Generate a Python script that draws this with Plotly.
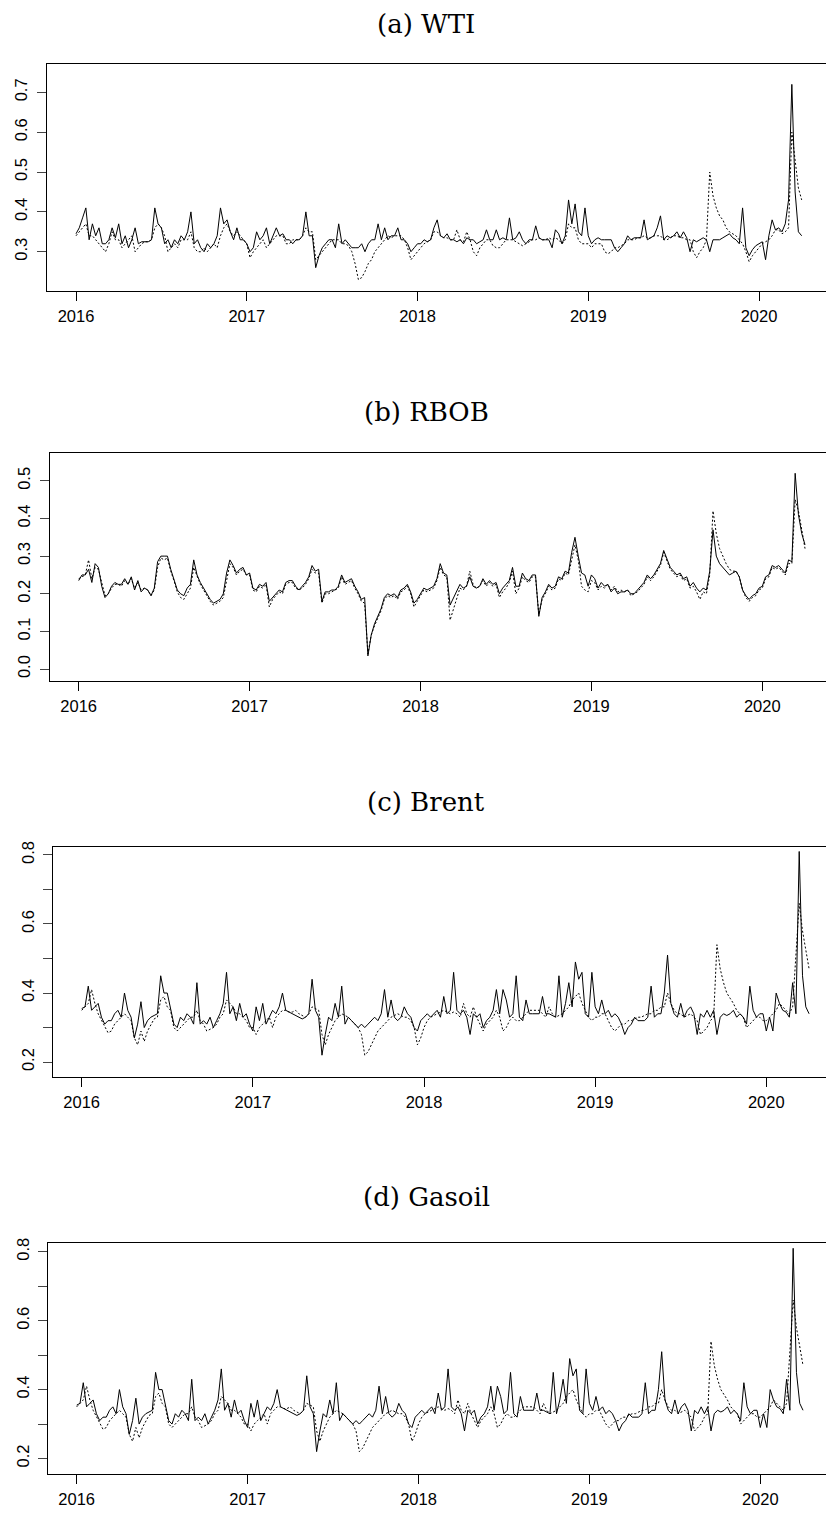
import numpy as np
import plotly.graph_objects as go

W, H = 826, 1515

# ---------------- data (weekly readings, 2016.0 -> 2020.25) ----------------
wti_solid = [
    0.345, 0.36, 0.385, 0.41, 0.33, 0.37, 0.34, 0.36, 0.32, 0.32, 0.33, 0.36, 0.335,
    0.37, 0.32, 0.34, 0.31, 0.33, 0.36, 0.32, 0.325, 0.325, 0.325, 0.33, 0.41, 0.37,
    0.36, 0.32, 0.33, 0.31, 0.33, 0.32, 0.34, 0.33, 0.35, 0.40, 0.32, 0.33, 0.31,
    0.30, 0.32, 0.31, 0.32, 0.34, 0.41, 0.37, 0.38, 0.35, 0.33, 0.36, 0.33, 0.33,
    0.32, 0.30, 0.31, 0.35, 0.33, 0.34, 0.36, 0.32, 0.34, 0.36, 0.34, 0.345, 0.33,
    0.33, 0.32, 0.33, 0.33, 0.34, 0.40, 0.34, 0.34, 0.26, 0.29, 0.31, 0.32, 0.33,
    0.33, 0.31, 0.37, 0.32, 0.33, 0.32, 0.31, 0.31, 0.31, 0.32, 0.30, 0.32, 0.33,
    0.33, 0.37, 0.33, 0.36, 0.33, 0.34, 0.34, 0.36, 0.33, 0.33, 0.32, 0.30, 0.31,
    0.32, 0.32, 0.33, 0.325, 0.33, 0.36, 0.38, 0.34, 0.335, 0.345, 0.33, 0.33, 0.325,
    0.33, 0.32, 0.335, 0.33, 0.33, 0.32, 0.325, 0.33, 0.355, 0.33, 0.33, 0.355, 0.33,
    0.335, 0.33, 0.385, 0.33, 0.335, 0.35, 0.33, 0.32, 0.33, 0.33, 0.365, 0.335, 0.33,
    0.33, 0.33, 0.31, 0.355, 0.345, 0.32, 0.34, 0.43, 0.37, 0.42, 0.35, 0.34, 0.41,
    0.34, 0.32, 0.33, 0.335, 0.33, 0.33, 0.33, 0.33, 0.31, 0.30, 0.31, 0.32, 0.34,
    0.33, 0.335, 0.335, 0.335, 0.38, 0.33, 0.335, 0.34, 0.36, 0.39, 0.33, 0.34, 0.335,
    0.34, 0.35, 0.335, 0.35, 0.335, 0.30, 0.33, 0.325, 0.33, 0.335, 0.33, 0.30, 0.33,
    0.33, 0.33, 0.335, 0.34, 0.345, 0.335, 0.33, 0.32, 0.41, 0.31, 0.29, 0.305, 0.315,
    0.32, 0.325, 0.28, 0.34, 0.38, 0.355, 0.36, 0.35, 0.37, 0.43, 0.72, 0.45, 0.35, 0.34,
]
wti_dotted = [
    0.34, 0.35, 0.36, 0.37, 0.34, 0.34, 0.33, 0.32, 0.31, 0.30, 0.32, 0.35, 0.33,
    0.33, 0.31, 0.32, 0.33, 0.34, 0.30, 0.31, 0.32, 0.325, 0.325, 0.33, 0.36, 0.37,
    0.36, 0.34, 0.30, 0.31, 0.32, 0.31, 0.33, 0.33, 0.33, 0.35, 0.31, 0.30, 0.30,
    0.31, 0.30, 0.31, 0.32, 0.31, 0.34, 0.36, 0.37, 0.35, 0.34, 0.35, 0.34, 0.33,
    0.32, 0.285, 0.30, 0.31, 0.32, 0.33, 0.31, 0.32, 0.33, 0.34, 0.34, 0.34, 0.32,
    0.32, 0.33, 0.33, 0.33, 0.34, 0.36, 0.35, 0.35, 0.28, 0.29, 0.30, 0.31, 0.32,
    0.33, 0.33, 0.33, 0.32, 0.32, 0.315, 0.30, 0.27, 0.23, 0.235, 0.25, 0.27, 0.28,
    0.30, 0.31, 0.32, 0.33, 0.34, 0.335, 0.34, 0.34, 0.34, 0.33, 0.31, 0.28, 0.29,
    0.30, 0.31, 0.32, 0.325, 0.33, 0.35, 0.35, 0.34, 0.335, 0.335, 0.33, 0.33, 0.355,
    0.33, 0.325, 0.35, 0.33, 0.30, 0.29, 0.31, 0.32, 0.33, 0.33, 0.315, 0.31, 0.31,
    0.32, 0.33, 0.33, 0.33, 0.325, 0.32, 0.315, 0.32, 0.325, 0.33, 0.33, 0.335, 0.33,
    0.33, 0.335, 0.33, 0.335, 0.33, 0.32, 0.33, 0.37, 0.36, 0.36, 0.33, 0.32, 0.32,
    0.32, 0.31, 0.32, 0.32, 0.32, 0.30, 0.295, 0.30, 0.31, 0.31, 0.315, 0.32, 0.33,
    0.33, 0.33, 0.335, 0.335, 0.34, 0.335, 0.335, 0.34, 0.34, 0.34, 0.33, 0.33, 0.335,
    0.34, 0.34, 0.335, 0.335, 0.33, 0.33, 0.30, 0.285, 0.30, 0.31, 0.33, 0.50, 0.44,
    0.41, 0.39, 0.38, 0.36, 0.35, 0.345, 0.34, 0.33, 0.32, 0.30, 0.275, 0.29, 0.30,
    0.31, 0.32, 0.325, 0.33, 0.34, 0.355, 0.355, 0.345, 0.35, 0.36, 0.60, 0.53, 0.46, 0.43,
]
rbob_solid = [
    0.235, 0.25, 0.25, 0.265, 0.23, 0.28, 0.27, 0.22, 0.19, 0.20, 0.22, 0.23, 0.225,
    0.225, 0.24, 0.225, 0.245, 0.21, 0.235, 0.205, 0.215, 0.21, 0.195, 0.215, 0.285, 0.30,
    0.30, 0.30, 0.265, 0.24, 0.21, 0.20, 0.195, 0.215, 0.225, 0.29, 0.25, 0.23, 0.215,
    0.20, 0.185, 0.175, 0.18, 0.185, 0.20, 0.255, 0.29, 0.275, 0.255, 0.265, 0.27, 0.25,
    0.255, 0.215, 0.21, 0.225, 0.22, 0.23, 0.18, 0.19, 0.20, 0.21, 0.205, 0.23, 0.235,
    0.235, 0.22, 0.21, 0.22, 0.23, 0.245, 0.275, 0.26, 0.265, 0.18, 0.205, 0.205, 0.21,
    0.21, 0.22, 0.25, 0.23, 0.235, 0.24, 0.22, 0.205, 0.185, 0.19, 0.035, 0.09, 0.12,
    0.14, 0.16, 0.19, 0.20, 0.195, 0.20, 0.19, 0.21, 0.215, 0.225, 0.205, 0.175, 0.185,
    0.20, 0.215, 0.21, 0.215, 0.22, 0.24, 0.28, 0.255, 0.25, 0.17, 0.19, 0.205, 0.225,
    0.215, 0.22, 0.245, 0.22, 0.215, 0.22, 0.24, 0.225, 0.235, 0.225, 0.23, 0.20, 0.215,
    0.225, 0.235, 0.27, 0.22, 0.22, 0.255, 0.24, 0.235, 0.25, 0.25, 0.14, 0.19, 0.205,
    0.225, 0.215, 0.22, 0.245, 0.24, 0.26, 0.255, 0.31, 0.35, 0.30, 0.255, 0.25, 0.22,
    0.25, 0.24, 0.215, 0.23, 0.22, 0.225, 0.205, 0.215, 0.20, 0.205, 0.205, 0.21, 0.20,
    0.20, 0.21, 0.22, 0.23, 0.25, 0.24, 0.25, 0.265, 0.28, 0.315, 0.29, 0.27, 0.26,
    0.25, 0.255, 0.24, 0.245, 0.22, 0.23, 0.215, 0.205, 0.215, 0.21, 0.26, 0.37, 0.30,
    0.28, 0.27, 0.26, 0.25, 0.255, 0.26, 0.245, 0.21, 0.195, 0.185, 0.195, 0.20, 0.215,
    0.22, 0.245, 0.25, 0.275, 0.27, 0.275, 0.265, 0.255, 0.29, 0.285, 0.52, 0.41, 0.36, 0.33,
]
rbob_dotted = [
    0.24, 0.245, 0.25, 0.29, 0.24, 0.27, 0.265, 0.23, 0.195, 0.20, 0.215, 0.225, 0.225,
    0.22, 0.235, 0.225, 0.24, 0.215, 0.23, 0.21, 0.215, 0.21, 0.195, 0.21, 0.27, 0.295,
    0.29, 0.295, 0.26, 0.235, 0.205, 0.19, 0.185, 0.20, 0.215, 0.27, 0.245, 0.225, 0.21,
    0.195, 0.18, 0.17, 0.175, 0.18, 0.19, 0.24, 0.28, 0.27, 0.25, 0.26, 0.265, 0.25,
    0.25, 0.21, 0.205, 0.22, 0.215, 0.225, 0.165, 0.185, 0.195, 0.205, 0.20, 0.225, 0.23,
    0.23, 0.215, 0.21, 0.215, 0.225, 0.24, 0.265, 0.255, 0.255, 0.175, 0.20, 0.20, 0.205,
    0.21, 0.215, 0.245, 0.225, 0.23, 0.235, 0.215, 0.20, 0.18, 0.175, 0.04, 0.09, 0.115,
    0.135, 0.155, 0.185, 0.195, 0.19, 0.195, 0.185, 0.205, 0.21, 0.22, 0.20, 0.165, 0.18,
    0.195, 0.21, 0.205, 0.21, 0.215, 0.235, 0.27, 0.25, 0.245, 0.13, 0.16, 0.19, 0.215,
    0.21, 0.22, 0.26, 0.225, 0.215, 0.22, 0.235, 0.22, 0.23, 0.22, 0.225, 0.19, 0.205,
    0.215, 0.23, 0.26, 0.20, 0.215, 0.245, 0.235, 0.23, 0.245, 0.245, 0.145, 0.185, 0.20,
    0.22, 0.21, 0.215, 0.24, 0.235, 0.255, 0.25, 0.29, 0.33, 0.29, 0.22, 0.21, 0.205,
    0.235, 0.23, 0.21, 0.22, 0.215, 0.225, 0.21, 0.22, 0.205, 0.21, 0.205, 0.21, 0.195,
    0.20, 0.205, 0.215, 0.225, 0.245, 0.235, 0.245, 0.26, 0.275, 0.31, 0.285, 0.265, 0.255,
    0.245, 0.25, 0.235, 0.24, 0.215, 0.22, 0.205, 0.185, 0.205, 0.20, 0.25, 0.42, 0.36,
    0.32, 0.30, 0.28, 0.265, 0.26, 0.26, 0.245, 0.21, 0.19, 0.18, 0.19, 0.195, 0.21,
    0.215, 0.24, 0.245, 0.27, 0.265, 0.27, 0.26, 0.25, 0.28, 0.28, 0.45, 0.42, 0.37, 0.32,
]
brent_solid = [
    0.355, 0.36, 0.42, 0.35, 0.36, 0.37, 0.33, 0.31, 0.32, 0.32, 0.34, 0.35, 0.33,
    0.40, 0.35, 0.33, 0.27, 0.31, 0.375, 0.30, 0.32, 0.33, 0.335, 0.34, 0.45, 0.40,
    0.40, 0.35, 0.31, 0.30, 0.33, 0.32, 0.34, 0.33, 0.31, 0.43, 0.31, 0.32, 0.31,
    0.33, 0.30, 0.32, 0.34, 0.37, 0.46, 0.34, 0.36, 0.32, 0.37, 0.33, 0.34, 0.31,
    0.29, 0.36, 0.32, 0.37, 0.31, 0.33, 0.35, 0.34, 0.36, 0.40, 0.35, 0.345, 0.34,
    0.335, 0.33, 0.325, 0.33, 0.34, 0.44, 0.35, 0.33, 0.22, 0.28, 0.33, 0.32, 0.37,
    0.33, 0.42, 0.31, 0.33, 0.32, 0.31, 0.30, 0.31, 0.30, 0.31, 0.32, 0.33, 0.32,
    0.34, 0.41, 0.33, 0.38, 0.33, 0.32, 0.33, 0.36, 0.34, 0.33, 0.30, 0.29, 0.32,
    0.33, 0.34, 0.33, 0.34, 0.35, 0.33, 0.39, 0.34, 0.35, 0.46, 0.35, 0.34, 0.35,
    0.33, 0.28, 0.34, 0.33, 0.34, 0.30, 0.32, 0.33, 0.35, 0.41, 0.34, 0.41, 0.38,
    0.33, 0.34, 0.45, 0.33, 0.32, 0.38, 0.34, 0.34, 0.34, 0.34, 0.39, 0.34, 0.34,
    0.335, 0.33, 0.45, 0.33, 0.37, 0.43, 0.36, 0.49, 0.44, 0.46, 0.34, 0.33, 0.46,
    0.36, 0.34, 0.38, 0.34, 0.35, 0.33, 0.34, 0.33, 0.31, 0.28, 0.30, 0.31, 0.33,
    0.32, 0.32, 0.32, 0.33, 0.42, 0.33, 0.34, 0.34, 0.40, 0.51, 0.37, 0.34, 0.33,
    0.37, 0.33, 0.35, 0.36, 0.34, 0.28, 0.34, 0.33, 0.35, 0.33, 0.35, 0.28, 0.33,
    0.34, 0.335, 0.34, 0.35, 0.33, 0.34, 0.33, 0.31, 0.42, 0.35, 0.33, 0.34, 0.34,
    0.29, 0.33, 0.29, 0.40, 0.37, 0.35, 0.345, 0.33, 0.43, 0.34, 0.81, 0.45, 0.36, 0.34,
]
brent_dotted = [
    0.35, 0.36, 0.37, 0.41, 0.37, 0.34, 0.32, 0.30, 0.285, 0.29, 0.31, 0.32, 0.33,
    0.34, 0.33, 0.32, 0.27, 0.25, 0.29, 0.26, 0.29, 0.31, 0.325, 0.33, 0.38, 0.39,
    0.36, 0.35, 0.30, 0.29, 0.30, 0.31, 0.32, 0.33, 0.33, 0.35, 0.32, 0.31, 0.29,
    0.295, 0.30, 0.31, 0.33, 0.34, 0.38, 0.37, 0.36, 0.34, 0.34, 0.33, 0.32, 0.30,
    0.30, 0.28, 0.30, 0.31, 0.32, 0.33, 0.30, 0.33, 0.34, 0.35, 0.35, 0.345, 0.345,
    0.35, 0.34, 0.335, 0.33, 0.34, 0.36, 0.355, 0.35, 0.28, 0.25, 0.28, 0.30, 0.32,
    0.33, 0.34, 0.335, 0.33, 0.32, 0.31, 0.30, 0.28, 0.22, 0.23, 0.25, 0.27, 0.29,
    0.30, 0.31, 0.32, 0.33, 0.335, 0.34, 0.335, 0.33, 0.33, 0.32, 0.30, 0.25, 0.27,
    0.30, 0.32, 0.33, 0.335, 0.34, 0.345, 0.35, 0.345, 0.34, 0.345, 0.34, 0.33, 0.37,
    0.34, 0.33, 0.36, 0.33, 0.31, 0.29, 0.31, 0.32, 0.33, 0.35, 0.33, 0.29, 0.30,
    0.32, 0.33, 0.32, 0.32, 0.33, 0.34, 0.35, 0.35, 0.35, 0.35, 0.34, 0.33, 0.36,
    0.34, 0.33, 0.335, 0.34, 0.35, 0.36, 0.38, 0.39, 0.40, 0.37, 0.35, 0.33, 0.32,
    0.33, 0.33, 0.34, 0.34, 0.32, 0.30, 0.29, 0.30, 0.31, 0.31, 0.32, 0.32, 0.325,
    0.33, 0.33, 0.335, 0.34, 0.34, 0.35, 0.35, 0.36, 0.36, 0.40, 0.37, 0.35, 0.34,
    0.34, 0.33, 0.335, 0.34, 0.33, 0.32, 0.28, 0.29, 0.30, 0.32, 0.33, 0.54, 0.47,
    0.43, 0.40, 0.385, 0.37, 0.35, 0.34, 0.33, 0.30, 0.31, 0.32, 0.33, 0.33, 0.32,
    0.32, 0.33, 0.34, 0.35, 0.37, 0.36, 0.35, 0.34, 0.36, 0.50, 0.66, 0.58, 0.52, 0.47,
]
# the Gasoil panel in the reference shows the same curves as the Brent panel
gasoil_solid = list(brent_solid)
gasoil_dotted = list(brent_dotted)

year_ticks = [2016, 2017, 2018, 2019, 2020]
titles = ["(a) WTI", "(b) RBOB", "(c) Brent", "(d) Gasoil"]


def weeks(n):
    return 2016.0 + np.arange(n) / 52.0


# ---------------- layout geometry (pixels) ----------------
panels = [
    dict(solid=wti_solid, dotted=wti_dotted, L=47, T=58, B=286, p16=76, p20=759,
         yc=(0.3, 246.7, 0.7, 86.7), yt=[0.3, 0.4, 0.5, 0.6, 0.7],
         ytt=["0.3", "0.4", "0.5", "0.6", "0.7"], ty=18),
    dict(solid=rbob_solid, dotted=rbob_dotted, L=50, T=449, B=678, p16=78.7, p20=762.3,
         yc=(0.0, 665.7, 0.5, 476.7), yt=[0.0, 0.1, 0.2, 0.3, 0.4, 0.5],
         ytt=["0.0", "0.1", "0.2", "0.3", "0.4", "0.5"], ty=408),
    dict(solid=brent_solid, dotted=brent_dotted, L=53.3, T=844.3, B=1075.7, p16=81.7, p20=766.3,
         yc=(0.2, 1060.3, 0.8, 852.3), yt=[0.2, 0.3, 0.4, 0.5, 0.6, 0.7, 0.8],
         ytt=["0.2", "", "0.4", "", "0.6", "", "0.8"], ty=799),
    dict(solid=gasoil_solid, dotted=gasoil_dotted, L=48.3, T=1242.3, B=1474, p16=76.7, p20=760.3,
         yc=(0.2, 1458.3, 0.8, 1250.7), yt=[0.2, 0.3, 0.4, 0.5, 0.6, 0.7, 0.8],
         ytt=["0.2", "", "0.4", "", "0.6", "", "0.8"], ty=1196),
]

fig = go.Figure()
tickfont = dict(family="Liberation Sans, Arial, sans-serif", size=16.5, color="black")
annotations = []

for i, p in enumerate(panels):
    sfx = "" if i == 0 else str(i + 1)
    xa, ya = "x" + sfx, "y" + sfx
    ppy = (p["p20"] - p["p16"]) / 4.0
    xr = [2016 + (p["L"] - p["p16"]) / ppy, 2016 + (W - p["p16"]) / ppy]
    v1, py1, v2, py2 = p["yc"]
    ppv = (py1 - py2) / (v2 - v1)
    yr = [v1 - (p["B"] - py1) / ppv, v2 + (py2 - p["T"]) / ppv]

    fig.add_trace(go.Scatter(x=weeks(len(p["dotted"])), y=p["dotted"], mode="lines",
                             line=dict(color="black", width=1, dash="2px,2px"),
                             xaxis=xa, yaxis=ya, showlegend=False, hoverinfo="skip"))
    fig.add_trace(go.Scatter(x=weeks(len(p["solid"])), y=p["solid"], mode="lines",
                             line=dict(color="black", width=1),
                             xaxis=xa, yaxis=ya, showlegend=False, hoverinfo="skip"))

    fig.layout["xaxis" + sfx] = dict(
        domain=[p["L"] / W, 1.0], range=xr, anchor=ya,
        showline=True, linecolor="black", linewidth=1, mirror=True,
        ticks="outside", ticklen=9, tickcolor="black", tickwidth=1,
        tickvals=year_ticks, ticktext=[str(v) for v in year_ticks],
        tickfont=tickfont, ticklabelstandoff=1,
        showgrid=False, zeroline=False, fixedrange=True)
    fig.layout["yaxis" + sfx] = dict(
        domain=[1 - p["B"] / H, 1 - p["T"] / H], range=yr, anchor=xa,
        showline=True, linecolor="black", linewidth=1, mirror=False,
        ticks="outside", ticklen=9, tickcolor="#444", tickwidth=1,
        tickvals=p["yt"], ticktext=p["ytt"], tickangle=-90,
        tickfont=tickfont, ticklabelstandoff=3,
        showgrid=False, zeroline=False, fixedrange=True)

    annotations.append(dict(
        text=titles[i], x=426 / W, y=1 - p["ty"] / H, xref="paper", yref="paper",
        xanchor="center", yanchor="middle", showarrow=False,
        font=dict(family="DejaVu Serif, Liberation Serif, serif", size=26, color="black")))

fig.update_layout(
    width=W, height=H, margin=dict(l=0, r=0, t=0, b=0),
    paper_bgcolor="white", plot_bgcolor="white",
    annotations=annotations, showlegend=False)

fig.write_html("out.html")
